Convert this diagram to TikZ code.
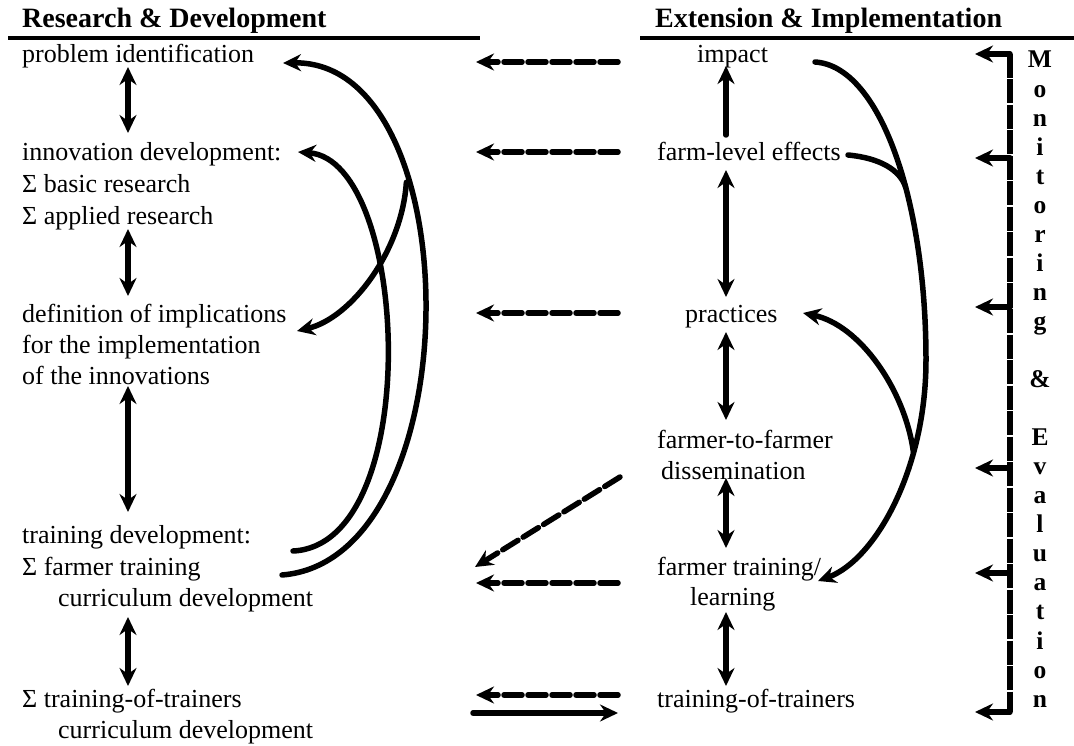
\documentclass[tikz,border=0pt]{standalone}
\usepackage{fontspec}
\setmainfont{Liberation Serif}
\usetikzlibrary{arrows.meta}
\begin{document}
\begin{tikzpicture}[x=1pt,y=-1pt,
  txt/.style={font=\fontsize{26}{32}\selectfont, inner sep=0pt, anchor=base west},
  hdr/.style={font=\fontsize{28}{32}\selectfont\bfseries, inner sep=0pt, anchor=base west},
  letter/.style={font=\fontsize{25.5}{32}\selectfont\bfseries, inner sep=0pt, anchor=base},
  rule/.style={line width=4.5pt},
  conn/.style={line width=5.5pt, line cap=round},
  dsh/.style={conn, dash pattern=on 18pt off 6pt},
  >={Stealth[length=18pt,width=17pt,inset=6pt]}]
\useasboundingbox (0,0) rectangle (1074,746);

% headers
\node[hdr] (hrd) at (22,28) {Research \& Development};
\node[hdr] (hei) at (655,28) {Extension \& Implementation};
\draw[rule] (8,38) -- (480,38);
\draw[rule] (640,38) -- (1074,38);

% left column
\node[txt] (pi) at (22,63) {problem identification};
\node[txt] (id) at (22,161) {innovation development:};
\node[txt] (br) at (22,193) {Σ basic research};
\node[txt] (ar) at (22,225) {Σ applied research};
\node[txt] (di1) at (22,322) {definition of implications};
\node[txt] (di2) at (22,353) {for the implementation};
\node[txt] (di3) at (22,384) {of the innovations};
\node[txt] (td) at (22,543) {training development:};
\node[txt] (ft) at (22,575) {Σ farmer training};
\node[txt] (fc) at (58,606) {curriculum development};
\node[txt] (tt) at (22,707) {Σ training-of-trainers};
\node[txt] (tc) at (58,738) {curriculum development};

% right column
\node[txt] (im) at (697,63) {impact};
\node[txt] (fe) at (657,161) {farm-level effects};
\node[txt] (pr) at (685,322) {practices};
\node[txt] (ff1) at (657,448) {farmer-to-farmer};
\node[txt] (ff2) at (661,479) {dissemination};
\node[txt] (fl1) at (657,575) {farmer training/};
\node[txt] (fl2) at (690,605) {learning};
\node[txt] (rt) at (657,707) {training-of-trainers};

% monitoring & evaluation
\foreach \l [count=\i from 0] in {M,o,n,i,t,o,r,i,n,g,,\&,,E,v,a,l,u,a,t,i,o,n}
  \node[letter] (me\i) at (1040,{68+29.05*\i}) {\l};

% coordinates for connector ends
\coordinate (l1a) at (128,67);  \coordinate (l1b) at (128,133);
\coordinate (l2a) at (128,229); \coordinate (l2b) at (128,296);
\coordinate (l3a) at (128,386); \coordinate (l3b) at (128,512);
\coordinate (l4a) at (128,617); \coordinate (l4b) at (128,686);

\coordinate (r0a) at (726,135); \coordinate (r0b) at (726,66);
\coordinate (r1a) at (726,170); \coordinate (r1b) at (726,297);
\coordinate (r2a) at (726,332); \coordinate (r2b) at (726,420);
\coordinate (r3a) at (726,478); \coordinate (r3b) at (726,548);
\coordinate (r4a) at (726,612); \coordinate (r4b) at (726,686);

% vertical arrows
\draw[conn,<->] (l1a) -- (l1b);
\draw[conn,<->] (l2a) -- (l2b);
\draw[conn,<->] (l3a) -- (l3b);
\draw[conn,<->] (l4a) -- (l4b);
\draw[conn,->] (r0a) -- (r0b);
\draw[conn,<->] (r1a) -- (r1b);
\draw[conn,<->] (r2a) -- (r2b);
\draw[conn,<->] (r3a) -- (r3b);
\draw[conn,<->] (r4a) -- (r4b);

% horizontal dashed arrows
\coordinate (h1s) at (618,62);  \coordinate (h1e) at (476,62);
\coordinate (h2s) at (618,152); \coordinate (h2e) at (476,152);
\coordinate (h3s) at (618,313); \coordinate (h3e) at (476,313);
\coordinate (h4s) at (620,477); \coordinate (h4e) at (475,567);
\coordinate (h5s) at (618,583); \coordinate (h5e) at (476,583);
\coordinate (h6s) at (618,695); \coordinate (h6e) at (476,695);
\coordinate (h7s) at (473,713); \coordinate (h7e) at (618,713);
\draw[dsh,->] (h1s) -- (h1e);
\draw[dsh,->] (h2s) -- (h2e);
\draw[dsh,->] (h3s) -- (h3e);
\draw[dsh,->] (h4s) -- (h4e);
\draw[dsh,->] (h5s) -- (h5e);
\draw[dsh,->] (h6s) -- (h6e);
\draw[conn,->] (h7s) -- (h7e);

% left feedback curves
\coordinate (c1s) at (282,575); \coordinate (c1e) at (283,63);
\coordinate (c2s) at (293,551); \coordinate (c2e) at (298,152);
\coordinate (c3e) at (297,331);
\draw[conn,->] (c1s) .. controls (472,560) and (472,60) .. coordinate[pos=0.68] (c3s) (c1e);
\draw[conn,->] (c2s) .. controls (425,545) and (410,160) .. (c2e);
\draw[conn,->] (c3s) .. controls (402,250) and (352,318) .. (c3e);

% right feedback curves
\coordinate (d1s) at (815,62); \coordinate (d1m) at (926,360); \coordinate (d1e) at (818,581);
\coordinate (d2s) at (848,155);
\coordinate (d3e) at (803,313);
\draw[conn] (d1s) .. controls (880,66) and (926,200) .. coordinate[pos=0.6] (d2e) (d1m);
\draw[conn,->] (d1m) .. controls (926,470) and (875,560) .. coordinate[pos=0.3] (d3s) (d1e);
\draw[conn] (d2s) .. controls (880,158) and (900,170) .. (d2e);
\draw[conn,->] (d3s) .. controls (905,390) and (860,325) .. (d3e);

% monitoring bracket
\coordinate (mt) at (1010,54); \coordinate (mb) at (1010,712);
\coordinate (mtl) at (975,54); \coordinate (mbl) at (975,712);
\draw[line width=6pt, dash pattern=on 24pt off 1.5pt] (mt) -- (mb);
\draw[conn,->] (mt) -- (mtl);
\draw[conn,->] (mb) -- (mbl);
\foreach \y [count=\k] in {158,307,468,573}{
  \coordinate (ms\k) at (1010,\y);
  \coordinate (me\k) at (975,\y);
  \draw[conn,->] (ms\k) -- (me\k);
}
\end{tikzpicture}
\end{document}
